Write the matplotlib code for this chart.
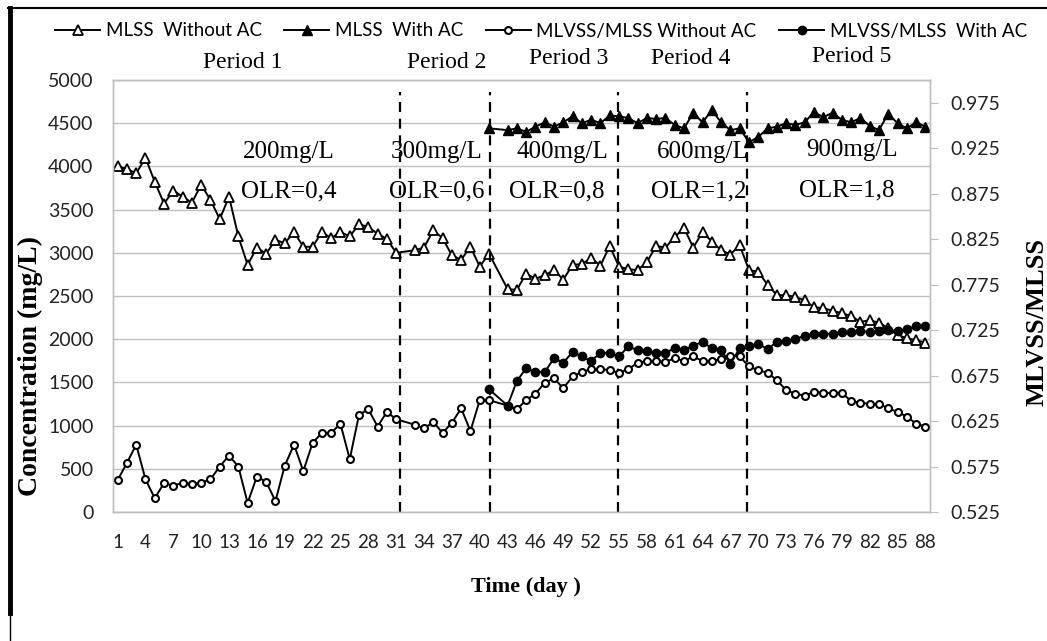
import matplotlib
matplotlib.use("Agg")
import matplotlib.pyplot as plt
from matplotlib.lines import Line2D

# ---- data (None = no sample that day) ----
days = list(range(1, 89))

mlss_without_ac = [
    4000, 3970, 3920, 4100, 3820, 3570, 3720, 3650, 3580, 3790,
    3610, 3390, 3650, 3190, 2860, 3060, 2990, 3150, 3110, 3240,
    3070, 3070, 3240, 3170, 3240, 3190, 3330, 3300, 3220, 3160,
    3000, None, 3030, 3060, 3260, 3170, 2970, 2920, 3070, 2840,
    2990, None, 2580, 2570, 2760, 2700, 2740, 2800, 2690, 2860,
    2870, 2940, 2850, 3080, 2840, 2810, 2800, 2890, 3080, 3060,
    3180, 3290, 3060, 3240, 3130, 3030, 2980, 3090, 2800, 2780,
    2630, 2510, 2510, 2490, 2450, 2370, 2360, 2330, 2300, 2270,
    2200, 2220, 2190, 2130, 2050, 2010, 1990, 1960,
]

mlss_with_ac = [None] * 40 + [
    4440, None, 4420, 4440, 4400, 4460, 4510, 4460, 4510, 4580,
    4500, 4540, 4500, 4590, 4580, 4560, 4500, 4560, 4550, 4560,
    4480, 4440, 4620, 4510, 4650, 4510, 4420, 4440, 4280, 4340,
    4440, 4460, 4500, 4480, 4510, 4630, 4570, 4620, 4540, 4510,
    4560, 4470, 4420, 4610, 4500, 4440, 4510, 4460,
]

ratio_without_ac = [
    0.560, 0.579, 0.599, 0.561, 0.540, 0.557, 0.554, 0.557, 0.556, 0.557,
    0.561, 0.575, 0.587, 0.575, 0.535, 0.564, 0.558, 0.537, 0.576, 0.599,
    0.570, 0.601, 0.612, 0.612, 0.622, 0.583, 0.632, 0.638, 0.619, 0.635,
    0.627, None, 0.621, 0.617, 0.624, 0.612, 0.623, 0.639, 0.614, 0.648,
    0.648, None, 0.642, 0.638, 0.648, 0.655, 0.667, 0.672, 0.661, 0.674,
    0.679, 0.682, 0.682, 0.681, 0.678, 0.682, 0.689, 0.691, 0.691, 0.690,
    0.694, 0.691, 0.696, 0.691, 0.691, 0.693, 0.697, 0.696, 0.685, 0.681,
    0.678, 0.670, 0.659, 0.655, 0.653, 0.657, 0.656, 0.656, 0.656, 0.647,
    0.645, 0.644, 0.644, 0.639, 0.635, 0.630, 0.622, 0.619,
]

ratio_with_ac = [None] * 40 + [
    0.660, None, 0.642, 0.669, 0.683, 0.679, 0.679, 0.694, 0.689, 0.701,
    0.696, 0.691, 0.700, 0.700, 0.696, 0.707, 0.703, 0.702, 0.700, 0.700,
    0.705, 0.703, 0.708, 0.712, 0.705, 0.703, 0.688, 0.705, 0.707, 0.710,
    0.704, 0.712, 0.713, 0.715, 0.719, 0.721, 0.721, 0.721, 0.723, 0.723,
    0.724, 0.723, 0.724, 0.725, 0.724, 0.726, 0.729, 0.729,
]

period_bounds = [31.4, 41.1, 54.9, 68.8]
period_names = ["Period 1", "Period 2", "Period 3", "Period 4", "Period 5"]
period_conc = ["200mg/L", "300mg/L", "400mg/L", "600mg/L", "900mg/L"]
period_olr = ["OLR=0,4", "OLR=0,6", "OLR=0,8", "OLR=1,2", "OLR=1,8"]

W, H = 1047, 641
SANS = ["Lato", "DejaVu Sans"]
SERIF = ["Liberation Serif", "DejaVu Serif"]
GRID = "#bfbfbf"


def present(xs, ys):
    pts = [(x, y) for x, y in zip(xs, ys) if y is not None]
    return [p[0] for p in pts], [p[1] for p in pts]


def px(x, y):
    # pixel position -> figure fraction
    return x / W, 1 - y / H


fig = plt.figure(figsize=(W / 100, H / 100), dpi=100)
ax = fig.add_axes([113 / W, 1 - 512 / H, (930 - 113) / W, (512 - 80) / H])
ax2 = ax.twinx()

line_kw = dict(color="black", lw=1.4)
h1, = ax.plot(*present(days, mlss_without_ac), marker="^", ms=7.5, mfc="white",
              mec="black", mew=1.3, label="MLSS  Without AC", **line_kw)
h2, = ax.plot(*present(days, mlss_with_ac), marker="^", ms=7.5, mfc="black",
              mec="black", label="MLSS  With AC", **line_kw)
h3, = ax2.plot(*present(days, ratio_without_ac), marker="o", ms=5, mfc="white",
               mec="black", mew=1.5, label="MLVSS/MLSS Without AC", **line_kw)
h4, = ax2.plot(*present(days, ratio_with_ac), marker="o", ms=6, mfc="black",
               mec="black", label="MLVSS/MLSS  With AC", **line_kw)

ax.vlines(period_bounds, 0, 4860, colors="black", lw=1.6, linestyles=(0, (4.5, 3)))

# axes styling
ax.set_xlim(0.5, 88.5)
ax.set_ylim(0, 5000)
ax.set_yticks(range(0, 5001, 500))
ax.set_xticks(days[::3])
ax.set_xticklabels([str(d) for d in days[::3]])
ax.grid(axis="y", color=GRID, lw=1)
ax.set_axisbelow(True)
ax2.set_ylim(0.525, 1.0)
ax2.set_yticks([0.525 + 0.05 * k for k in range(10)])
ax2.set_yticklabels(["%.3f" % (0.525 + 0.05 * k) for k in range(10)])

for a in (ax, ax2):
    for s in a.spines.values():
        s.set_color(GRID)
        s.set_linewidth(1)

ax.tick_params(axis="x", length=0, pad=16, labelsize=13.5)
ax.tick_params(axis="y", length=0, pad=14, labelsize=14)
ax2.tick_params(axis="y", length=6, color=GRID, pad=9, labelsize=14)
for lab in ax.get_xticklabels() + ax.get_yticklabels() + ax2.get_yticklabels():
    lab.set_family(SANS)
    lab.set_color("#222222")

fig.text(*px(30, 366), "Concentration (mg/L)", rotation=90, ha="center", va="center",
         family=SERIF, weight="bold", fontsize=20)
fig.text(*px(1037, 322), "MLVSS/MLSS", rotation=90, ha="center", va="center",
         family=SERIF, weight="bold", fontsize=19)
fig.text(*px(526, 587), "Time (day )", ha="center", va="center",
         family=SERIF, weight="bold", fontsize=16)

# period annotations
name_pos = [(243, 62), (447, 62), (569, 58), (691, 59), (852, 56)]
conc_pos = [(289, 152), (437, 152), (562, 152), (703, 152), (852, 150)]
olr_pos = [(289, 191), (437, 191), (557, 191), (699, 191), (847, 190)]
for name, conc, olr, p1, p2, p3 in zip(period_names, period_conc, period_olr,
                                        name_pos, conc_pos, olr_pos):
    fig.text(*px(*p1), name, ha="center", va="center", family=SERIF, fontsize=17)
    fig.text(*px(*p2), conc, ha="center", va="center", family=SERIF, fontsize=18)
    fig.text(*px(*p3), olr, ha="center", va="center", family=SERIF, fontsize=18)

leg = fig.legend(handles=[h1, h2, h3, h4], loc="center", bbox_to_anchor=px(541, 31),
                 ncol=4, frameon=False, handlelength=2.4, handletextpad=0.3,
                 columnspacing=1.2, numpoints=1, prop={"family": SANS, "size": 13.5})

# picture frame of the original document
fig.add_artist(Line2D([10 / W, 10 / W], [1 - 8 / H, 1 - 613 / H], color="black", lw=3.5))
fig.add_artist(Line2D([10 / W, 10 / W], [1 - 613 / H, 0], color="black", lw=1))
fig.add_artist(Line2D([8 / W, 1], [1 - 8 / H, 1 - 8 / H], color="black", lw=1.5))

fig.savefig("out.png", dpi=100)
